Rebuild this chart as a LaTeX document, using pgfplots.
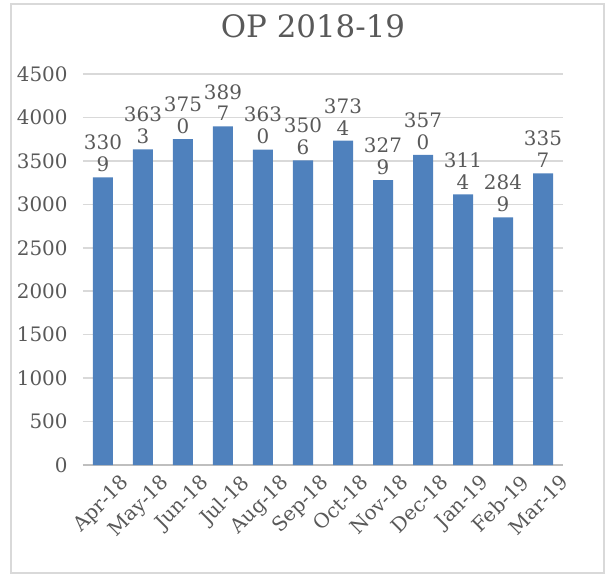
\documentclass[border=0pt]{standalone}
\usepackage{fontspec}
\setmainfont{DejaVu Serif}
\usepackage{pgfplots}
\pgfplotsset{compat=1.18}
\definecolor{barblue}{RGB}{79,129,189}
\definecolor{txtgray}{RGB}{89,89,89}
\definecolor{gridgray}{RGB}{217,217,217}
\definecolor{axgray}{RGB}{191,191,191}
\definecolor{boxgray}{RGB}{217,217,217}
\begin{document}
\begin{tikzpicture}
\path[use as bounding box] (-51.5bp,-55bp) rectangle (252bp,232.5bp);
\draw[boxgray, line width=0.8bp] (-46bp,-54bp) rectangle (250.5bp,230.5bp);
\node[font=\fontsize{15.5}{18}\selectfont, text=txtgray] at (105bp,219.5bp) {OP 2018-19};
\begin{axis}[
  at={(0,0)}, anchor=origin,
  scale only axis, width=240bp, height=195.5bp,
  xmin=-0.5, xmax=11.5, ymin=0, ymax=4500,
  ytick={0,500,...,4500},
  xtick={0,...,11},
  xticklabels={Apr-18,May-18,Jun-18,Jul-18,Aug-18,Sep-18,Oct-18,Nov-18,Dec-18,Jan-19,Feb-19,Mar-19},
  /pgf/number format/assume math mode=true,
  /pgf/number format/1000 sep={},
  ticklabel style={font=\fontsize{10}{12}\selectfont, text=txtgray},
  xticklabel style={rotate=45, anchor=north east, inner sep=0.5bp, yshift=-8bp, xshift=3.5bp},
  yticklabel style={inner sep=0pt, xshift=-7.5bp},
  axis x line*=bottom, axis y line*=left,
  y axis line style={draw=none},
  x axis line style={draw=axgray, line width=0.8bp},
  ytick style={draw=none},
  xtick style={draw=none},
  extra x ticks={-0.5,0.5,...,11.5},
  extra x tick labels={},
  extra x tick style={tick style={draw=axgray, line width=0.8bp}, major tick length=6bp, tick align=outside, grid=none},
  ymajorgrids, grid style={gridgray, line width=0.8bp},
  clip=false,
  nodes near coords,
  point meta=explicit symbolic,
  every node near coord/.append style={font=\fontsize{10}{11}\selectfont, text=txtgray, align=center, anchor=south, inner sep=1bp, yshift=1.5bp},
]
\addplot[ybar, bar width=10bp, fill=barblue, draw=none] coordinates {
  (0,3309) [330\\9]
  (1,3633) [363\\3]
  (2,3750) [375\\0]
  (3,3897) [389\\7]
  (4,3630) [363\\0]
  (5,3506) [350\\6]
  (6,3734) [373\\4]
  (7,3279) [327\\9]
  (8,3570) [357\\0]
  (9,3114) [311\\4]
  (10,2849) [284\\9]
  (11,3357) [335\\7]
};
\end{axis}
\end{tikzpicture}
\end{document}
